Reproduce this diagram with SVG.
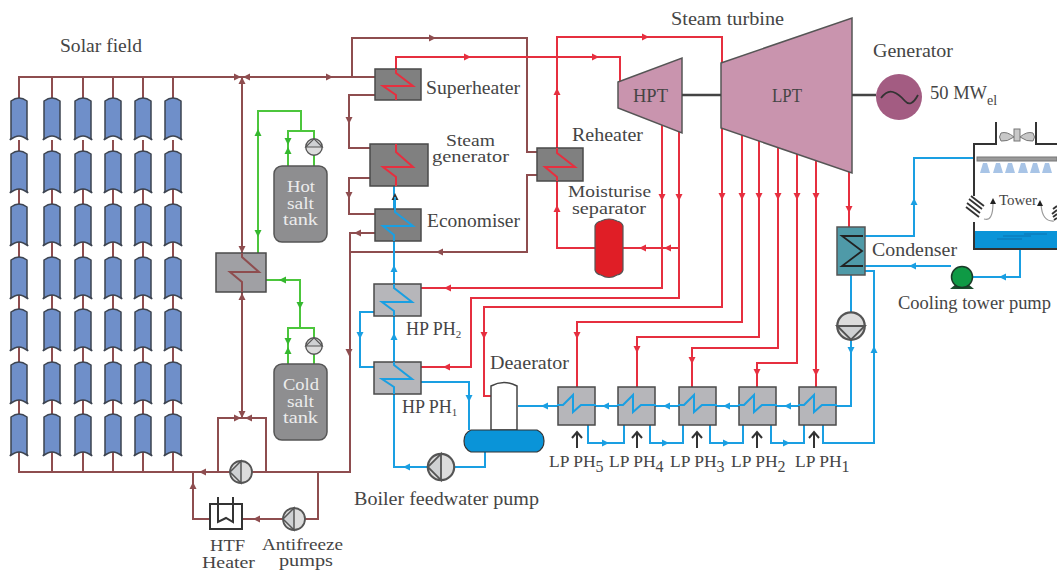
<svg xmlns="http://www.w3.org/2000/svg" xmlns:xlink="http://www.w3.org/1999/xlink" width="1057" height="572" viewBox="0 0 1057 572">
<style>
text{font-family:"Liberation Serif","DejaVu Serif",serif;font-size:19px;fill:#454545}
.st{font-size:16px}
.l{fill:#ececec;font-size:16px}
.sub{font-size:11px}
.lps{font-size:18px}
.lpn{font-size:17.5px}
.br{fill:none;stroke:#8e4d4f;stroke-width:2}
.rd{fill:none;stroke:#e62f3f;stroke-width:2}
.bl{fill:none;stroke:#1a9fe2;stroke-width:2}
.gr{fill:none;stroke:#4cc63c;stroke-width:2}
.box{stroke:#4a4a4a;stroke-width:1.5}
.dk{fill:#808080}
.lt{fill:#b6b6ba}
.ar{fill:#8e4d4f}.ar-r{fill:#e62f3f}.ar-b{fill:#1a9fe2}.ar-g{fill:#35b82e}
.blk{fill:none;stroke:#333;stroke-width:2}
</style>
<defs>
<path id="col" d="M-8,3Q-4,0 0,0Q4,0 8,3L8,40L9,42Q4,38 0,38Q-4,38 -9,42L-8,40Z" fill="#6f8fc9" stroke="#3d4450" stroke-width="1.5"/>
<polygon id="a" points="4,0 -3,-3.5 -3,3.5"/>
<g id="pump"><circle r="11" fill="#dcdcdc" stroke="#555" stroke-width="1.8"/><path d="M0,-11L-11,0L0,11Z" fill="#cfd1d3" stroke="#555" stroke-width="1.5"/></g>
<g id="lpbox"><rect width="37" height="38" class="box lt"/><polyline class="bl" points="-1,18 5,18 15,8 15,25 23,18 38,18"/></g>
<path id="arrowup" d="M0,17V2M-5,7L0,1L5,7" fill="none" stroke="#333" stroke-width="2"/>
</defs>

<g id="connectors">
<path class="br" d="M19,98V77H375M52,77V98M83,77V98M113,77V98M143,77V98M173,77V98"/>
<path class="br" d="M19,140V472H350V233H375M52,140V472M83,140V472M113,140V472M143,140V472M173,140V472"/>
<path class="br" d="M242,77V418M218,472V418H266V472"/>
<path class="br" d="M318,472V519H210M210,519H193V472"/>
<path class="br" d="M352,77V38H527V152H537M537,175H527V252H350"/>
<path class="br" d="M375,95H349V148H370M370,178H349V214H375"/>
<path class="rd" d="M396,69V57H620V84"/>
<path class="rd" d="M557,148V37H722V65"/>
<path class="rd" d="M557,181V248H595M623,248H679"/>
<path class="rd" d="M662,123V288H421"/>
<path class="rd" d="M679,128V298H471V367H421"/>
<path class="rd" d="M722,128V307H484V396H491"/>
<path class="rd" d="M742,134V322H577V387M759,140V337H637V387M778,146V348H692V387M797,153V363H757V387M816,159V387M849,171V228"/>
<path class="bl" d="M394,186V467H428M454,467H485V452"/>
<path class="bl" d="M374,312H360V367H374"/>
<path class="bl" d="M421,382H469V430"/>
<path class="bl" d="M851,275V406H518"/>
<path class="bl" d="M588,425V443H624V425M650,425V443H683V425M710,425V443H743V425M771,425V443H804V425M823,425V443H874V271H865"/>
<path class="bl" d="M865,236H914V158H974"/>
<path class="bl" d="M865,266H951M973,277H1020V249"/>
<path class="gr" d="M258,253V111H301V131M288,166V131H314V166"/>
<path class="gr" d="M266,280H300V328M288,364V328H314V364"/>
<g class="ar">
<use xlink:href="#a" transform="translate(237,77)"/><use xlink:href="#a" transform="translate(247,77) rotate(180)"/><use xlink:href="#a" transform="translate(329,77)"/>
<use xlink:href="#a" transform="translate(242,81) rotate(-90)"/><use xlink:href="#a" transform="translate(242,249) rotate(90)"/><use xlink:href="#a" transform="translate(242,297) rotate(-90)"/><use xlink:href="#a" transform="translate(242,414) rotate(90)"/>
<use xlink:href="#a" transform="translate(237,418)"/><use xlink:href="#a" transform="translate(249,418) rotate(180)"/><use xlink:href="#a" transform="translate(203,472) rotate(180)"/><use xlink:href="#a" transform="translate(193,486) rotate(-90)"/><use xlink:href="#a" transform="translate(257,519) rotate(180)"/>
<use xlink:href="#a" transform="translate(432,38)"/><use xlink:href="#a" transform="translate(349,120) rotate(90)"/><use xlink:href="#a" transform="translate(349,195) rotate(90)"/><use xlink:href="#a" transform="translate(358,233) rotate(180)"/><use xlink:href="#a" transform="translate(440,252) rotate(180)"/><use xlink:href="#a" transform="translate(349,352) rotate(90)"/>
</g>
<g class="ar-r">
<use xlink:href="#a" transform="translate(467,57)"/><use xlink:href="#a" transform="translate(595,57)"/><use xlink:href="#a" transform="translate(645,37)"/>
<use xlink:href="#a" transform="translate(557,92) rotate(-90)"/><use xlink:href="#a" transform="translate(557,209) rotate(-90)"/>
<use xlink:href="#a" transform="translate(643,248) rotate(180)"/><use xlink:href="#a" transform="translate(668,248) rotate(180)"/>
<use xlink:href="#a" transform="translate(662,197) rotate(90)"/><use xlink:href="#a" transform="translate(679,197) rotate(90)"/>
<use xlink:href="#a" transform="translate(448,288) rotate(180)"/><use xlink:href="#a" transform="translate(447,367) rotate(180)"/>
<use xlink:href="#a" transform="translate(484,335) rotate(90)"/><use xlink:href="#a" transform="translate(577,335) rotate(90)"/><use xlink:href="#a" transform="translate(637,349) rotate(90)"/>
<use xlink:href="#a" transform="translate(722,196) rotate(90)"/><use xlink:href="#a" transform="translate(742,196) rotate(90)"/><use xlink:href="#a" transform="translate(759,196) rotate(90)"/><use xlink:href="#a" transform="translate(778,196) rotate(90)"/><use xlink:href="#a" transform="translate(797,196) rotate(90)"/><use xlink:href="#a" transform="translate(816,196) rotate(90)"/>
<use xlink:href="#a" transform="translate(849,209) rotate(90)"/><use xlink:href="#a" transform="translate(692,360) rotate(90)"/><use xlink:href="#a" transform="translate(757,372) rotate(90)"/><use xlink:href="#a" transform="translate(816,372) rotate(90)"/>
</g>
<g class="ar-b">
<use xlink:href="#a" transform="translate(394,269) rotate(-90)"/><use xlink:href="#a" transform="translate(394,337) rotate(-90)"/><use xlink:href="#a" transform="translate(360,335) rotate(90)"/><use xlink:href="#a" transform="translate(469,398) rotate(90)"/><use xlink:href="#a" transform="translate(407,467) rotate(180)"/>
<use xlink:href="#a" transform="translate(545,406) rotate(180)"/><use xlink:href="#a" transform="translate(606,406) rotate(180)"/><use xlink:href="#a" transform="translate(667,406) rotate(180)"/><use xlink:href="#a" transform="translate(727,406) rotate(180)"/><use xlink:href="#a" transform="translate(788,406) rotate(180)"/>
<use xlink:href="#a" transform="translate(605,443)"/><use xlink:href="#a" transform="translate(665,443)"/><use xlink:href="#a" transform="translate(726,443)"/><use xlink:href="#a" transform="translate(786,443)"/>
<use xlink:href="#a" transform="translate(851,350) rotate(90)"/><use xlink:href="#a" transform="translate(874,350) rotate(-90)"/><use xlink:href="#a" transform="translate(914,202) rotate(-90)"/><use xlink:href="#a" transform="translate(913,266) rotate(180)"/><use xlink:href="#a" transform="translate(1003,277) rotate(180)"/>
</g>
<use xlink:href="#a" fill="#333" transform="translate(395,197) rotate(-90)"/>
<g class="ar-g">
<use xlink:href="#a" transform="translate(258,133) rotate(-90)"/><use xlink:href="#a" transform="translate(258,233) rotate(90)"/><use xlink:href="#a" transform="translate(283,280) rotate(180)"/><use xlink:href="#a" transform="translate(300,305) rotate(90)"/>
<use xlink:href="#a" transform="translate(288,141) rotate(90)"/><use xlink:href="#a" transform="translate(288,151) rotate(-90)"/><use xlink:href="#a" transform="translate(288,341) rotate(90)"/><use xlink:href="#a" transform="translate(288,351) rotate(-90)"/>
</g>
</g>

<g id="solar-field">
<text x="60" y="52" textLength="82" lengthAdjust="spacingAndGlyphs">Solar field</text>
<use xlink:href="#col" x="19" y="98"/><use xlink:href="#col" x="52" y="98"/><use xlink:href="#col" x="83" y="98"/><use xlink:href="#col" x="113" y="98"/><use xlink:href="#col" x="143" y="98"/><use xlink:href="#col" x="173" y="98"/>
<use xlink:href="#col" x="19" y="151"/><use xlink:href="#col" x="52" y="151"/><use xlink:href="#col" x="83" y="151"/><use xlink:href="#col" x="113" y="151"/><use xlink:href="#col" x="143" y="151"/><use xlink:href="#col" x="173" y="151"/>
<use xlink:href="#col" x="19" y="204"/><use xlink:href="#col" x="52" y="204"/><use xlink:href="#col" x="83" y="204"/><use xlink:href="#col" x="113" y="204"/><use xlink:href="#col" x="143" y="204"/><use xlink:href="#col" x="173" y="204"/>
<use xlink:href="#col" x="19" y="257"/><use xlink:href="#col" x="52" y="257"/><use xlink:href="#col" x="83" y="257"/><use xlink:href="#col" x="113" y="257"/><use xlink:href="#col" x="143" y="257"/><use xlink:href="#col" x="173" y="257"/>
<use xlink:href="#col" x="19" y="309"/><use xlink:href="#col" x="52" y="309"/><use xlink:href="#col" x="83" y="309"/><use xlink:href="#col" x="113" y="309"/><use xlink:href="#col" x="143" y="309"/><use xlink:href="#col" x="173" y="309"/>
<use xlink:href="#col" x="19" y="362"/><use xlink:href="#col" x="52" y="362"/><use xlink:href="#col" x="83" y="362"/><use xlink:href="#col" x="113" y="362"/><use xlink:href="#col" x="143" y="362"/><use xlink:href="#col" x="173" y="362"/>
<use xlink:href="#col" x="19" y="414"/><use xlink:href="#col" x="52" y="414"/><use xlink:href="#col" x="83" y="414"/><use xlink:href="#col" x="113" y="414"/><use xlink:href="#col" x="143" y="414"/><use xlink:href="#col" x="173" y="414"/>
</g>

<g id="salt-hx"><rect x="216" y="253" width="50" height="39" fill="#a0a0a4" class="box"/><polyline class="br" points="242,253 242,257 259,272 230,272 242,282 242,292"/></g>

<g id="hot-salt-tank"><rect x="274" y="166" width="53" height="76" rx="8" fill="#8e8e90" stroke="#555" stroke-width="1.5"/>
<text class="l" x="287" y="192" textLength="28" lengthAdjust="spacingAndGlyphs">Hot</text><text class="l" x="287" y="208.500" textLength="27" lengthAdjust="spacingAndGlyphs">salt</text><text class="l" x="283" y="225" textLength="35" lengthAdjust="spacingAndGlyphs">tank</text></g>
<g id="hot-salt-pump"><use xlink:href="#pump" transform="translate(314,147) rotate(90) scale(.75)"/></g>
<g id="cold-salt-tank"><rect x="274" y="364" width="53" height="76" rx="8" fill="#8e8e90" stroke="#555" stroke-width="1.5"/>
<text class="l" x="283" y="390" textLength="36" lengthAdjust="spacingAndGlyphs">Cold</text><text class="l" x="287" y="406.500" textLength="27" lengthAdjust="spacingAndGlyphs">salt</text><text class="l" x="283" y="423" textLength="35" lengthAdjust="spacingAndGlyphs">tank</text></g>
<g id="cold-salt-pump"><use xlink:href="#pump" transform="translate(314,346) rotate(90) scale(.75)"/></g>

<g id="main-pump"><use xlink:href="#pump" transform="translate(241,472)"/></g>
<g id="antifreeze-pump"><use xlink:href="#pump" transform="translate(294,519)"/>
<text class="st" x="262" y="549.500" textLength="81" lengthAdjust="spacingAndGlyphs">Antifreeze</text><text class="st" x="279" y="566" textLength="54" lengthAdjust="spacingAndGlyphs">pumps</text></g>
<g id="htf-heater"><rect x="210" y="504" width="32" height="25" fill="#fff" stroke="#333" stroke-width="2"/><path class="blk" d="M218,497V522L226,518L233,522V497"/>
<text class="st" x="210" y="551" textLength="35" lengthAdjust="spacingAndGlyphs">HTF</text><text class="st" x="202" y="568" textLength="53" lengthAdjust="spacingAndGlyphs">Heater</text></g>

<g id="superheater"><rect x="375" y="69" width="46" height="31" class="box dk"/><polyline class="rd" points="396,69 396,73 413,86 383,86 396,95 396,100"/><text x="426" y="94" textLength="94" lengthAdjust="spacingAndGlyphs">Superheater</text></g>
<g id="steam-generator"><rect x="370" y="144" width="58" height="42" class="box dk"/><polyline class="rd" points="396,144 396,152 413,167 383,167 396,177 396,186"/><text class="st" x="446" y="145.500" textLength="49" lengthAdjust="spacingAndGlyphs">Steam</text><text class="st" x="432" y="162" textLength="77" lengthAdjust="spacingAndGlyphs">generator</text></g>
<g id="economiser"><rect x="375" y="209" width="46" height="32" class="box dk"/><polyline class="bl" points="395,197 395,212 413,226 383,226 394,235 394,241"/><text x="427" y="227" textLength="93" lengthAdjust="spacingAndGlyphs">Economiser</text></g>
<g id="reheater"><rect x="537" y="148" width="46" height="33" class="box dk"/><polyline class="rd" points="557,148 557,153 575,167 545,167 557,177 557,181"/><text x="572" y="141" textLength="71" lengthAdjust="spacingAndGlyphs">Reheater</text></g>
<g id="moisture-separator"><path d="M595,226Q596,222 601,221Q609,217 617,221Q622,222 623,226V270Q622,274 617,275Q609,280 601,275Q596,274 595,270Z" fill="#e01e26" stroke="#555" stroke-width="1.2"/><text class="st" x="568" y="197" textLength="83" lengthAdjust="spacingAndGlyphs">Moisturise</text><text class="st" x="572" y="213.500" textLength="74" lengthAdjust="spacingAndGlyphs">separator</text></g>

<g id="hpt"><polygon points="618,82 682,58 682,133 618,108" fill="#c994ae" stroke="#555" stroke-width="1.5"/><text x="633" y="102" textLength="35" lengthAdjust="spacingAndGlyphs">HPT</text></g>
<g id="lpt"><polygon points="721,63 852,18 852,173 721,128" fill="#c994ae" stroke="#555" stroke-width="1.5"/><text x="772" y="102" textLength="30" lengthAdjust="spacingAndGlyphs">LPT</text><text x="671" y="25" textLength="113" lengthAdjust="spacingAndGlyphs">Steam turbine</text></g>
<path id="shaft" d="M682,95H721M852,95H876" stroke="#444" stroke-width="2.5" fill="none"/>
<g id="generator"><circle cx="899" cy="97" r="23" fill="#a35c82"/><path d="M881,98Q887,90 893,92T905,101T918,95" fill="none" stroke="#333" stroke-width="1.8"/><text x="873" y="57" textLength="80" lengthAdjust="spacingAndGlyphs">Generator</text><text x="930" y="99" style="font-size:18.5px">50 MW<tspan dy="6" style="font-size:14px">el</tspan></text></g>

<g id="condenser"><rect x="837" y="227" width="28" height="48" fill="#4f9aa8" stroke="#555" stroke-width="1.5"/><polyline points="863,236 842,236 862,251 842,266 863,266" fill="none" stroke="#222" stroke-width="1.8"/><text x="872" y="256" textLength="85" lengthAdjust="spacingAndGlyphs">Condenser</text></g>
<g id="condensate-pump"><use xlink:href="#pump" transform="translate(851,326) rotate(-90) scale(1.25)"/></g>

<g id="cooling-tower">
<rect x="975" y="231" width="82" height="18" fill="#0a94d8"/>
<path d="M974,196V144H996V122M1036,122V144H1057" fill="none" stroke="#333" stroke-width="2"/>
<path d="M974,222V249H1057" fill="none" stroke="#333" stroke-width="2"/>
<path d="M1014,137Q1007,131 1001,133Q998,137 1001,141Q1007,142 1014,137ZM1020,137Q1027,131 1033,133Q1036,137 1033,141Q1027,142 1020,137Z" fill="#c8c8c8" stroke="#777"/><rect x="1014" y="129" width="6" height="12" fill="#c8c8c8" stroke="#777"/>
<rect x="977" y="157" width="80" height="4" fill="#9a9a9a" stroke="#777"/>
<g fill="#a8c4e6"><path d="M983,163H987L990,173H980Z"/><path d="M996,163H1000L1003,173H993Z"/><path d="M1008,163H1012L1015,173H1005Z"/><path d="M1021,163H1025L1028,173H1018Z"/><path d="M1033,163H1037L1040,173H1030Z"/><path d="M1045,163H1049L1052,173H1042Z"/></g>
<path d="M971,196L984,206M969,199L982,209M967,203L980,213M966,207L979,217" stroke="#333" stroke-width="1.8" fill="none"/>
<path d="M1057,206L1053,209M1057,210L1052,214M1057,214L1053,217M1057,218L1054,220" stroke="#333" stroke-width="1.8" fill="none"/>
<path d="M984,219Q993,222 993,203M1054,221Q1042,222 1041,204" fill="none" stroke="#999" stroke-width="1.2"/>
<polygon points="993,198 996,204 990,204" fill="#222"/><polygon points="1040,200 1043,206 1037,206" fill="#222"/>
<path d="M997,239H1022M1003,236H1031M1024,234H1047" stroke="#0a6aa8" stroke-width=".8" fill="none"/>
<text x="999" y="205" textLength="38" lengthAdjust="spacingAndGlyphs" style="font-size:14.5px">Tower</text>
</g>
<g id="cooling-tower-pump"><path d="M950,289L956,284H968L974,289Z" fill="#1a4a2c"/><circle cx="962" cy="277" r="10.5" fill="#0f9a45" stroke="#1a3a28" stroke-width="1.5"/><text x="898" y="309" textLength="153" lengthAdjust="spacingAndGlyphs">Cooling tower pump</text></g>

<g id="hp-ph2"><rect x="374" y="284" width="47" height="32" class="box lt"/><polyline class="bl" points="394,284 394,288 412,302 382,302 394,311 394,316"/><text class="lps" x="406" y="335">HP PH<tspan class="sub" dy="3">2</tspan></text></g>
<g id="hp-ph1"><rect x="374" y="362" width="47" height="32" class="box lt"/><polyline class="bl" points="394,362 394,365 412,379 382,379 394,387 394,394"/><text class="lps" x="402" y="413">HP PH<tspan class="sub" dy="3">1</tspan></text></g>

<g id="deaerator"><path d="M491,430V386Q504,379 517,386V430Z" fill="#fff" stroke="#444" stroke-width="1.5"/><path d="M471,430H537Q544,433 544,441Q544,449 537,452H471Q464,449 464,441Q464,433 471,430Z" fill="#0a94d8" stroke="#333" stroke-width="1.2"/><text x="490" y="369" textLength="79" lengthAdjust="spacingAndGlyphs">Deaerator</text></g>
<g id="feed-pump"><use xlink:href="#pump" transform="translate(441,467) scale(1.2)"/><text x="354" y="505" textLength="185" lengthAdjust="spacingAndGlyphs">Boiler feedwater pump</text></g>

<g id="lp-ph5"><use xlink:href="#lpbox" x="558" y="387"/><use xlink:href="#arrowup" x="577" y="431"/><text class="lpn" x="549" y="467">LP PH<tspan dy="5" style="font-size:16px">5</tspan></text></g>
<g id="lp-ph4"><use xlink:href="#lpbox" x="618" y="387"/><use xlink:href="#arrowup" x="637" y="431"/><text class="lpn" x="609" y="467">LP PH<tspan dy="5" style="font-size:16px">4</tspan></text></g>
<g id="lp-ph3"><use xlink:href="#lpbox" x="679" y="387"/><use xlink:href="#arrowup" x="697" y="431"/><text class="lpn" x="670" y="467">LP PH<tspan dy="5" style="font-size:16px">3</tspan></text></g>
<g id="lp-ph2"><use xlink:href="#lpbox" x="739" y="387"/><use xlink:href="#arrowup" x="757" y="431"/><text class="lpn" x="731" y="467">LP PH<tspan dy="5" style="font-size:16px">2</tspan></text></g>
<g id="lp-ph1"><use xlink:href="#lpbox" x="799" y="387"/><use xlink:href="#arrowup" x="814" y="431"/><text class="lpn" x="795" y="467">LP PH<tspan dy="5" style="font-size:16px">1</tspan></text></g>
</svg>
